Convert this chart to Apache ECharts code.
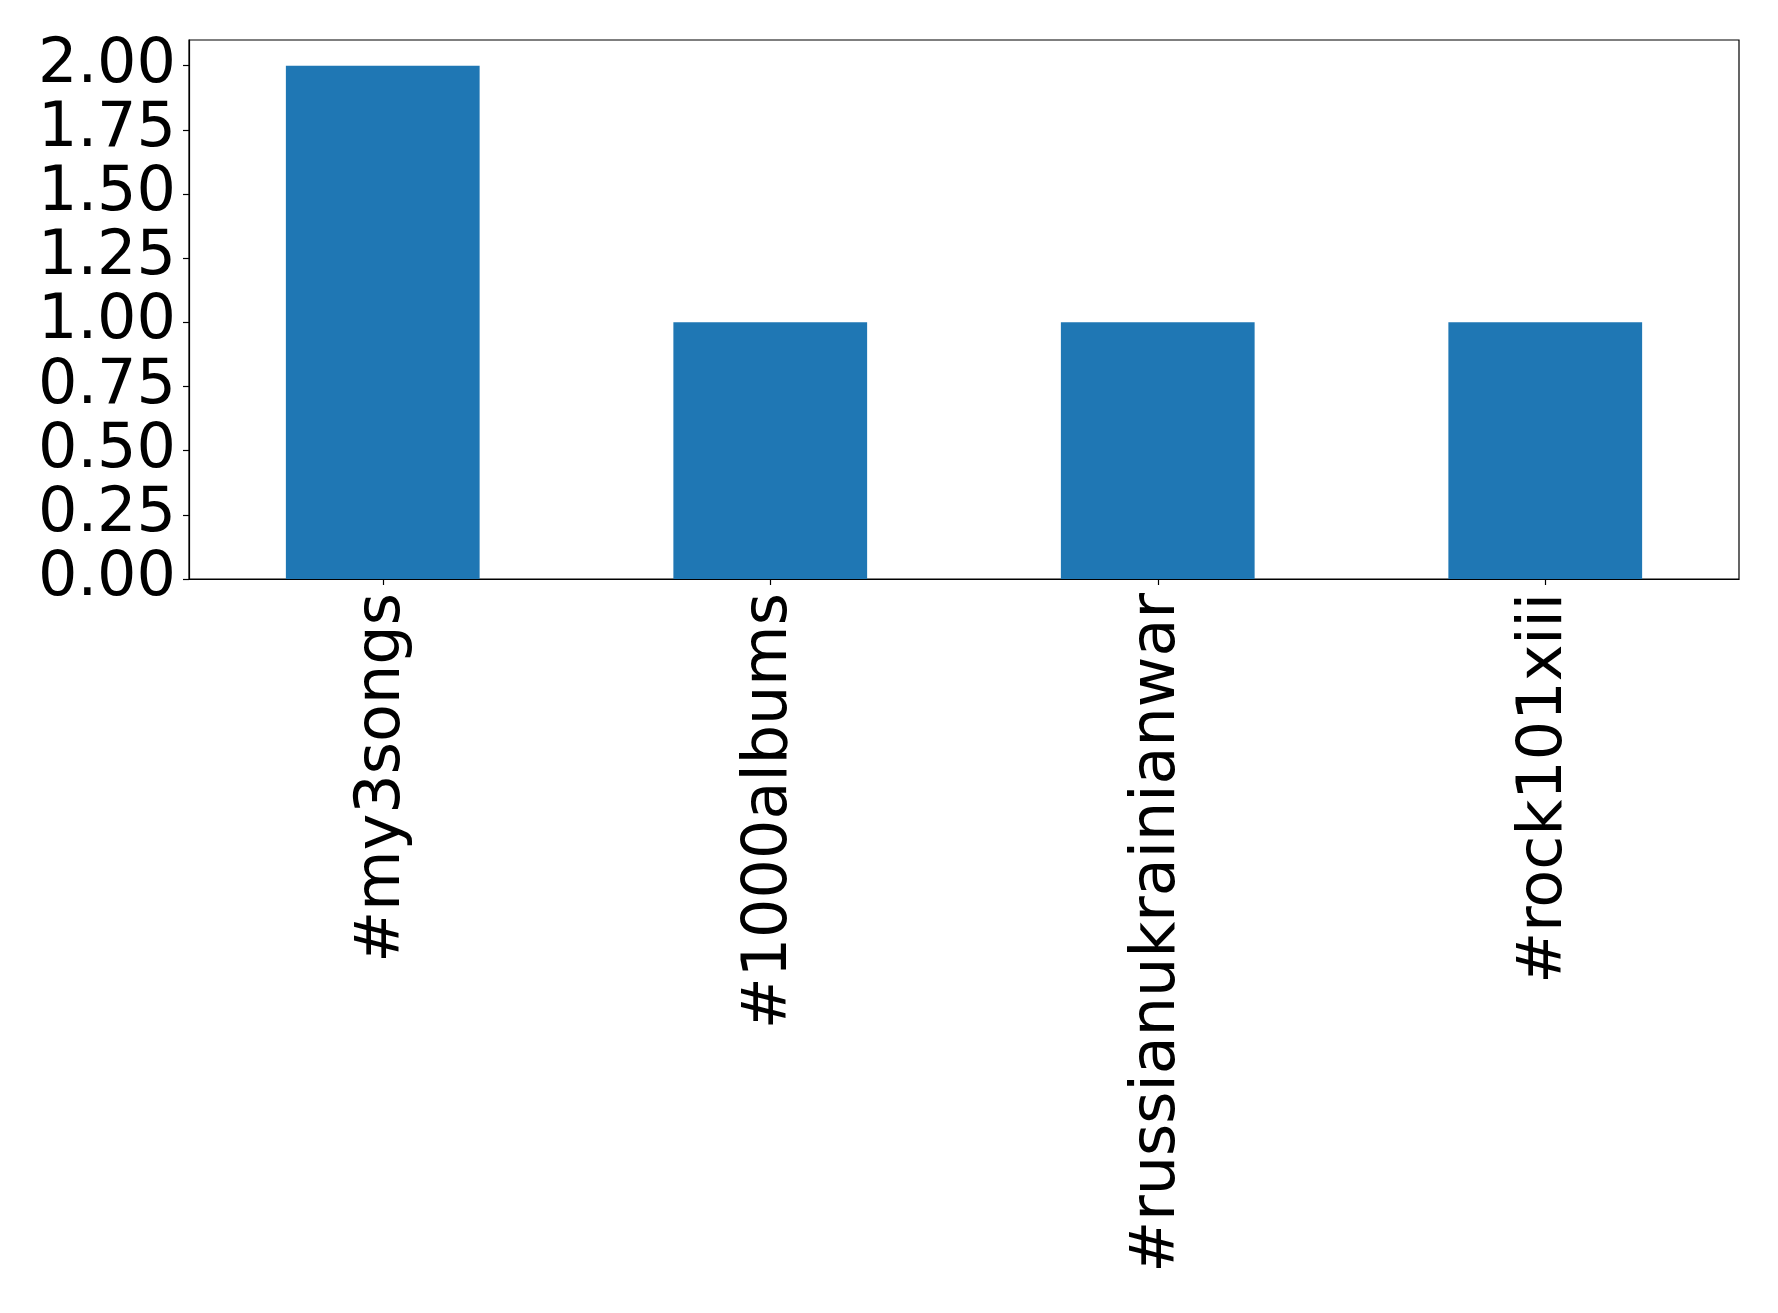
<!DOCTYPE html>
<html>
<head>
<meta charset="utf-8">
<script src="https://cdn.jsdelivr.net/npm/echarts@6/dist/echarts.min.js"></script>
<style>html,body{margin:0;padding:0;background:#fff;}#c{width:1778px;height:1313px;}</style>
</head>
<body>
<div id="c"></div>
<script>
const categories = ['#my3songs', '#1000albums', '#russianukrainianwar', '#rock101xiii'];
const counts = [2, 1, 1, 1];
const yTicks = [0, 0.25, 0.5, 0.75, 1.0, 1.25, 1.5, 1.75, 2.0];

const chart = echarts.init(document.getElementById('c'), null, {renderer: 'canvas'});
chart.setOption({
  animation: false,
  backgroundColor: '#fff',
  grid: {left: 189, top: 40, width: 1550, height: 539, show: true, borderColor: '#000', borderWidth: 1.2, containLabel: false},
  xAxis: {
    type: 'category',
    data: categories,
    axisLine: {show: true, lineStyle: {color: '#000', width: 1.2}},
    axisTick: {show: true, alignWithLabel: true, length: 6, lineStyle: {color: '#000', width: 1.2}},
    axisLabel: {rotate: 90, fontSize: 62, color: '#000', fontFamily: 'DejaVu Sans', margin: 14, interval: 0},
    splitLine: {show: false}
  },
  yAxis: {
    type: 'value',
    min: 0, max: 2.1,
    axisLine: {show: true, lineStyle: {color: '#000', width: 1.2}},
    axisTick: {show: true, length: 6, customValues: yTicks, lineStyle: {color: '#000', width: 1.2}},
    axisLabel: {fontSize: 62, color: '#000', fontFamily: 'DejaVu Sans', margin: 13, customValues: yTicks,
      formatter: v => v.toFixed(2)},
    splitLine: {show: false}
  },
  series: [{
    type: 'bar',
    data: counts,
    barWidth: '50%',
    itemStyle: {color: '#1f77b4'}
  }]
});
</script>
</body>
</html>
